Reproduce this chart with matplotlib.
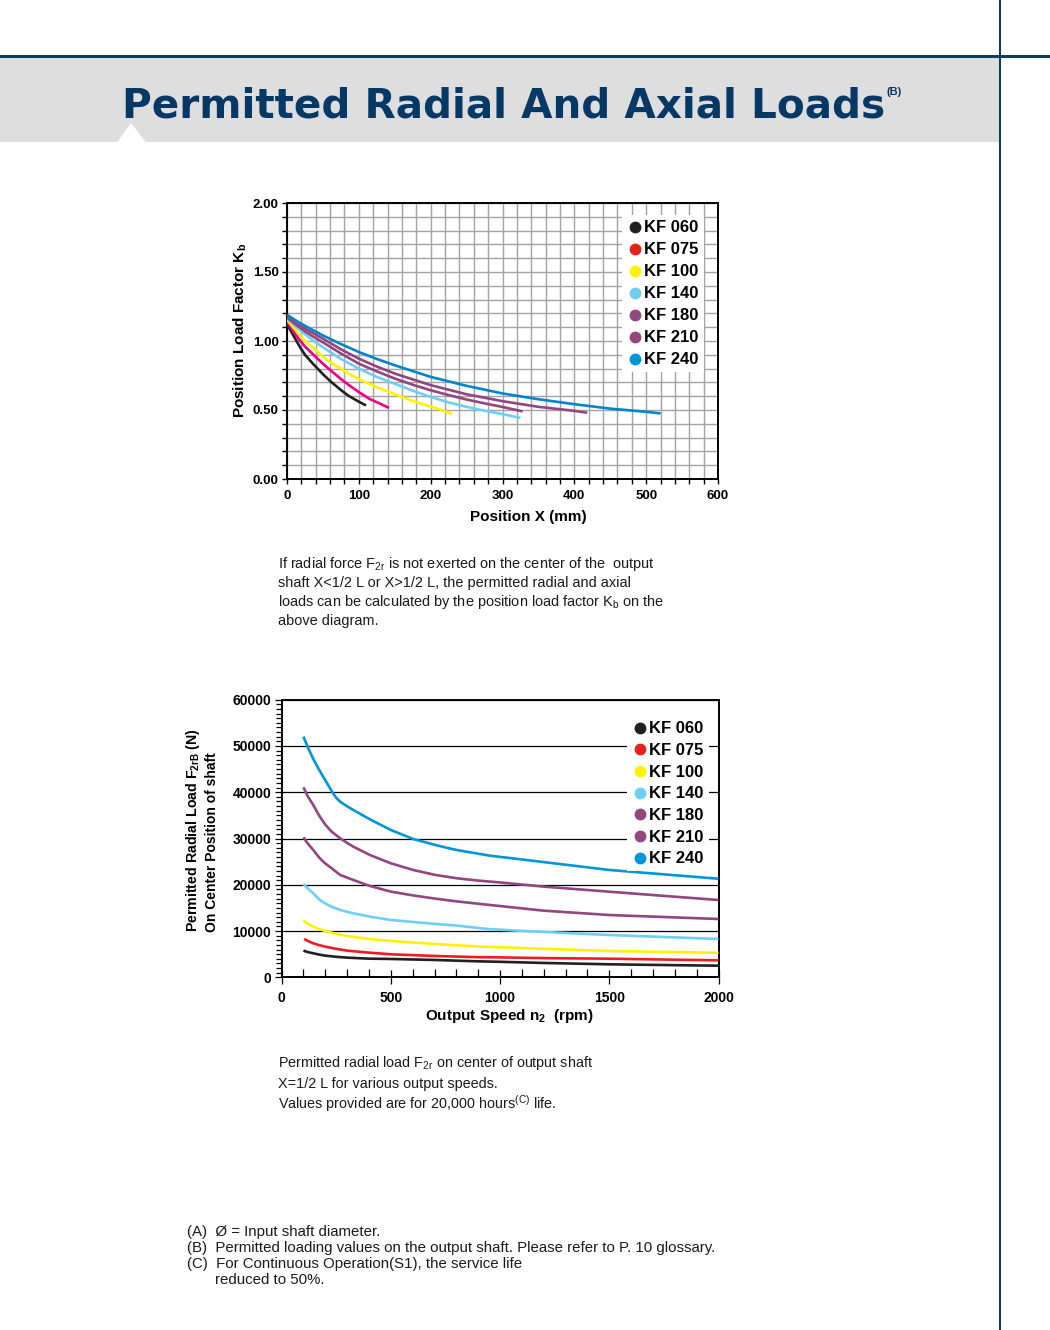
import matplotlib
matplotlib.use("Agg")
import matplotlib.pyplot as plt
from matplotlib.lines import Line2D
from matplotlib.patches import Rectangle, Polygon
from matplotlib.ticker import MultipleLocator

plt.rcParams['font.family'] = ['Liberation Sans', 'DejaVu Sans']
plt.rcParams['mathtext.fontset'] = 'custom'
plt.rcParams['mathtext.rm'] = 'Liberation Sans'
plt.rcParams['mathtext.bf'] = 'Liberation Sans:bold'
plt.rcParams['mathtext.default'] = 'regular'

# ---------------- data ----------------
labels = ["KF 060", "KF 075", "KF 100", "KF 140", "KF 180", "KF 210", "KF 240"]
legend_colors = ["#231f20", "#e3241b", "#fff200", "#6dcff6", "#92467f", "#92467f", "#0095da"]
top_line_colors = ["#231f20", "#ec008c", "#fff200", "#6dcff6", "#92467f", "#92467f", "#0085c8"]
bottom_line_colors = ["#231f20", "#ed1c24", "#fff200", "#6dcff6", "#92467f", "#92467f", "#0095da"]

# Position load factor Kb vs position X (mm)
kb_x_060 = [0, 5, 10, 17, 25, 37, 50, 60, 75, 85, 100, 110]
kb_y_060 = [1.125, 1.075, 1.03, 0.965, 0.90, 0.83, 0.76, 0.71, 0.645, 0.605, 0.56, 0.533]
kb_x_075 = [0, 5, 10, 17, 25, 37, 50, 60, 75, 85, 100, 115, 130, 142]
kb_y_075 = [1.14, 1.10, 1.06, 1.01, 0.96, 0.90, 0.835, 0.79, 0.725, 0.685, 0.63, 0.58, 0.545, 0.515]
kb_x_100 = [0, 10, 25, 37, 50, 62, 75, 87, 100, 125, 150, 175, 200, 215, 230]
kb_y_100 = [1.155, 1.09, 1.00, 0.95, 0.885, 0.84, 0.80, 0.76, 0.725, 0.665, 0.615, 0.565, 0.525, 0.50, 0.47]
kb_x_140 = [0, 12, 25, 37, 50, 75, 100, 125, 150, 175, 200, 225, 250, 275, 300, 325]
kb_y_140 = [1.165, 1.105, 1.05, 1.0, 0.955, 0.87, 0.80, 0.74, 0.69, 0.64, 0.595, 0.555, 0.523, 0.495, 0.47, 0.443]
kb_x_180 = [0, 12, 25, 37, 50, 75, 100, 125, 150, 175, 200, 225, 250, 275, 300, 328]
kb_y_180 = [1.17, 1.12, 1.07, 1.03, 0.99, 0.91, 0.836, 0.78, 0.728, 0.683, 0.643, 0.608, 0.576, 0.548, 0.522, 0.49]
kb_x_210 = [0, 12, 25, 50, 75, 100, 125, 150, 200, 250, 300, 350, 400, 418]
kb_y_210 = [1.175, 1.13, 1.09, 1.017, 0.94, 0.872, 0.815, 0.764, 0.68, 0.614, 0.564, 0.523, 0.494, 0.48]
kb_x_240 = [0, 12, 25, 50, 75, 100, 125, 150, 200, 250, 300, 350, 400, 450, 500, 520]
kb_y_240 = [1.19, 1.15, 1.11, 1.04, 0.978, 0.92, 0.87, 0.824, 0.74, 0.675, 0.62, 0.578, 0.542, 0.51, 0.487, 0.475]

# Permitted radial load F2rB (N) vs output speed n2 (rpm)
n_060 = [100, 120, 145, 170, 200, 250, 300, 400, 500, 700, 900, 1000, 1200, 1500, 1800, 2000]
f_060 = [5760, 5450, 5190, 4930, 4680, 4430, 4250, 4030, 3960, 3750, 3450, 3350, 3100, 2810, 2620, 2510]
n_075 = [103, 120, 145, 170, 200, 250, 300, 400, 500, 700, 900, 1000, 1200, 1500, 1800, 2000]
f_075 = [8300, 7850, 7350, 6980, 6630, 6150, 5760, 5330, 4970, 4610, 4350, 4300, 4150, 4020, 3800, 3670]
n_100 = [100, 120, 145, 170, 200, 250, 300, 400, 500, 700, 900, 1000, 1200, 1500, 1800, 2000]
f_100 = [12250, 11550, 10950, 10450, 10010, 9400, 8930, 8290, 7850, 7200, 6650, 6500, 6150, 5700, 5450, 5300]
n_140 = [100, 120, 145, 160, 175, 200, 229, 268, 328, 404, 500, 602, 704, 803, 952, 1200, 1500, 2000]
f_140 = [20170, 19200, 18160, 17400, 16710, 15950, 15270, 14550, 13830, 13110, 12390, 11960, 11530, 11170, 10400, 9800, 9140, 8280]
n_180 = [100, 120, 145, 160, 175, 200, 229, 268, 300, 328, 404, 500, 602, 704, 803, 900, 1000, 1200, 1500, 2000]
f_180 = [30260, 28900, 27520, 26600, 25720, 24600, 23560, 22120, 21550, 21040, 19740, 18520, 17700, 17000, 16400, 15900, 15400, 14400, 13460, 12600]
n_210 = [100, 120, 145, 160, 175, 200, 229, 268, 300, 328, 404, 500, 602, 704, 803, 900, 1000, 1200, 1500, 2000]
f_210 = [41070, 39100, 37250, 35950, 34730, 33000, 31480, 30040, 29050, 28240, 26440, 24640, 23200, 22120, 21400, 20900, 20500, 19600, 18500, 16700]
n_240 = [100, 120, 145, 170, 191, 215, 233, 250, 268, 300, 328, 404, 500, 602, 709, 800, 952, 1200, 1500, 2000]
f_240 = [52020, 49700, 47200, 45000, 43300, 41400, 39950, 38800, 37950, 36950, 36170, 34150, 31840, 29900, 28530, 27520, 26300, 24900, 23200, 21300]

kb_xticks = [0, 100, 200, 300, 400, 500, 600]
kb_yticks = [0.0, 0.5, 1.0, 1.5, 2.0]
kb_yticklabels = ["0.00", "0.50", "1.00", "1.50", "2.00"]
n_ticks = [0, 500, 1000, 1500, 2000]
f_ticks = [0, 10000, 20000, 30000, 40000, 50000, 60000]

kb_series = [(kb_x_060, kb_y_060), (kb_x_075, kb_y_075), (kb_x_100, kb_y_100),
             (kb_x_140, kb_y_140), (kb_x_180, kb_y_180), (kb_x_210, kb_y_210),
             (kb_x_240, kb_y_240)]
f_series = [(n_060, f_060), (n_075, f_075), (n_100, f_100), (n_140, f_140),
            (n_180, f_180), (n_210, f_210), (n_240, f_240)]

# ---------------- figure ----------------
W, H = 1050, 1330
fig = plt.figure(figsize=(W / 100, H / 100), dpi=100)
fig.patch.set_facecolor("white")

bg = fig.add_axes([0, 0, 1, 1], zorder=0)
bg.set_xlim(0, W)
bg.set_ylim(H, 0)
bg.axis("off")

navy = "#0b3a63"
bg.add_patch(Rectangle((0, 58), 1000, 84, facecolor="#dedede", edgecolor="none"))
bg.add_patch(Rectangle((0, 55), W, 3, facecolor=navy, edgecolor="none"))
bg.add_patch(Rectangle((999, 0), 2, H, facecolor=navy, edgecolor="none"))
bg.add_patch(Polygon([(117, 142.5), (131, 123), (146, 142.5)], closed=True,
                     facecolor="white", edgecolor="none"))

title = bg.text(122, 118, "Permitted Radial And Axial Loads", fontsize=27,
                family="DejaVu Sans", weight="heavy", color="#063866",
                ha="left", va="baseline")
fig.canvas.draw()
r = fig.canvas.get_renderer()
bb = title.get_window_extent(r)
title.set_fontsize(27 * 762 / bb.width)
fig.canvas.draw()
bb = title.get_window_extent(r)
bg.text(bb.x1 + 1, 95, "(B)", fontsize=8, weight="bold", color="#063866",
        ha="left", va="baseline")

# ---------------- top chart ----------------
ax1 = fig.add_axes([287 / W, 1 - 479 / H, 431 / W, 276 / H], zorder=2)
for (xs, ys), c in zip(kb_series, top_line_colors):
    ax1.plot(xs, ys, color=c, lw=1.9, solid_capstyle="butt", solid_joinstyle="round", zorder=3)
ax1.set_xlim(0, 600)
ax1.set_ylim(0, 2)
ax1.set_xticks(kb_xticks)
ax1.set_xticklabels([str(v) for v in kb_xticks])
ax1.set_yticks(kb_yticks)
ax1.set_yticklabels(kb_yticklabels)
ax1.xaxis.set_minor_locator(MultipleLocator(20))
ax1.yaxis.set_minor_locator(MultipleLocator(0.1))
ax1.grid(which="both", color="#a3a3a3", lw=1.0)
ax1.set_axisbelow(True)
ax1.tick_params(which="both", direction="out", length=3.5, width=1.0, color="black")
ax1.tick_params(axis="y", which="major", labelsize=9.5, pad=2.5)
ax1.tick_params(axis="x", which="major", labelsize=9.5, pad=4.5)
for lab in ax1.get_xticklabels() + ax1.get_yticklabels():
    lab.set_fontweight("bold")
for s in ax1.spines.values():
    s.set_linewidth(1.4)
h1 = [Line2D([], [], marker="o", ls="none", color=c, markersize=7.5) for c in legend_colors]
leg1 = ax1.legend(h1, labels, loc="upper left", bbox_to_anchor=(0.777, 0.955),
                  frameon=True, facecolor="white", edgecolor="none", framealpha=1,
                  fancybox=False, handletextpad=0.05, handlelength=1.0,
                  labelspacing=0.42, borderpad=0.3, borderaxespad=0,
                  prop={"weight": "bold", "size": 12})
leg1.set_zorder(5)

bg.text(528, 517, "Position X (mm)", fontsize=11, weight="bold", ha="center", va="center")
bg.text(240, 418, "Position Load Factor K$_b$", fontsize=11, weight="bold",
        rotation=90, ha="center", va="bottom")

# ---------------- paragraph 1 ----------------
p1 = ["If radial force F$_{2r}$ is not exerted on the center of the  output",
      "shaft X<1/2 L or X>1/2 L, the permitted radial and axial",
      "loads can be calculated by the position load factor K$_b$ on the",
      "above diagram."]
for i, line in enumerate(p1):
    bg.text(278, 568 + 19 * i, line, fontsize=10.45, ha="left", va="baseline", color="#1a1a1a")

# ---------------- bottom chart ----------------
ax2 = fig.add_axes([281.6 / W, 1 - 977.3 / H, 436.9 / W, 277.6 / H], zorder=2)
for (xs, ys), c in zip(f_series, bottom_line_colors):
    ax2.plot(xs, ys, color=c, lw=1.9, solid_capstyle="butt", solid_joinstyle="round", zorder=3)
ax2.set_xlim(0, 2000)
ax2.set_ylim(0, 60000)
ax2.set_xticks(n_ticks)
ax2.set_xticklabels([str(v) for v in n_ticks])
ax2.set_yticks(f_ticks)
ax2.set_yticklabels([str(v) for v in f_ticks])
ax2.xaxis.set_minor_locator(MultipleLocator(100))
ax2.yaxis.set_minor_locator(MultipleLocator(1000))
ax2.yaxis.grid(True, which="major", color="black", lw=0.9)
ax2.set_axisbelow(True)
ax2.tick_params(axis="x", which="minor", direction="in", length=6, width=0.9)
ax2.tick_params(axis="x", which="major", direction="inout", length=10, width=0.9,
                labelsize=10, pad=5)
ax2.tick_params(axis="y", which="major", direction="out", length=5, width=0.9,
                labelsize=10, pad=2.5)
ax2.tick_params(axis="y", which="minor", direction="out", length=4, width=0.9)
for lab in ax2.get_xticklabels() + ax2.get_yticklabels():
    lab.set_fontweight("bold")
for s in ax2.spines.values():
    s.set_linewidth(1.4)
h2 = [Line2D([], [], marker="o", ls="none", color=c, markersize=7.5) for c in legend_colors]
leg2 = ax2.legend(h2, labels, loc="upper left", bbox_to_anchor=(0.79, 0.94),
                  frameon=True, facecolor="white", edgecolor="none", framealpha=1,
                  fancybox=False, handletextpad=0.05, handlelength=1.0,
                  labelspacing=0.4, borderpad=0.3, borderaxespad=0,
                  prop={"weight": "bold", "size": 12})
leg2.set_zorder(5)

bg.text(509, 1016, "Output Speed n$_2$  (rpm)", fontsize=11, weight="bold",
        ha="center", va="center")
bg.text(193, 932, "Permitted Radial Load F$_{2rB}$ (N)", fontsize=10.2, weight="bold",
        rotation=90, ha="center", va="bottom")
bg.text(212, 932, "On Center Position of shaft", fontsize=10, weight="bold",
        rotation=90, ha="center", va="bottom")

# ---------------- paragraph 2 ----------------
p2 = ["Permitted radial load F$_{2r}$ on center of output shaft",
      "X=1/2 L for various output speeds.",
      "Values provided are for 20,000 hours$^{(C)}$ life."]
for i, line in enumerate(p2):
    bg.text(278, 1067 + 21 * i, line, fontsize=10.4, ha="left", va="baseline", color="#1a1a1a")

# ---------------- footnotes ----------------
notes = [(187, "(A)  Ø = Input shaft diameter."),
         (187, "(B)  Permitted loading values on the output shaft. Please refer to P. 10 glossary."),
         (187, "(C)  For Continuous Operation(S1), the service life"),
         (215, "reduced to 50%.")]
for i, (x, line) in enumerate(notes):
    bg.text(x, 1236 + 16 * i, line, fontsize=10.8, ha="left", va="baseline", color="#1a1a1a")

fig.savefig("out.png", dpi=100)
